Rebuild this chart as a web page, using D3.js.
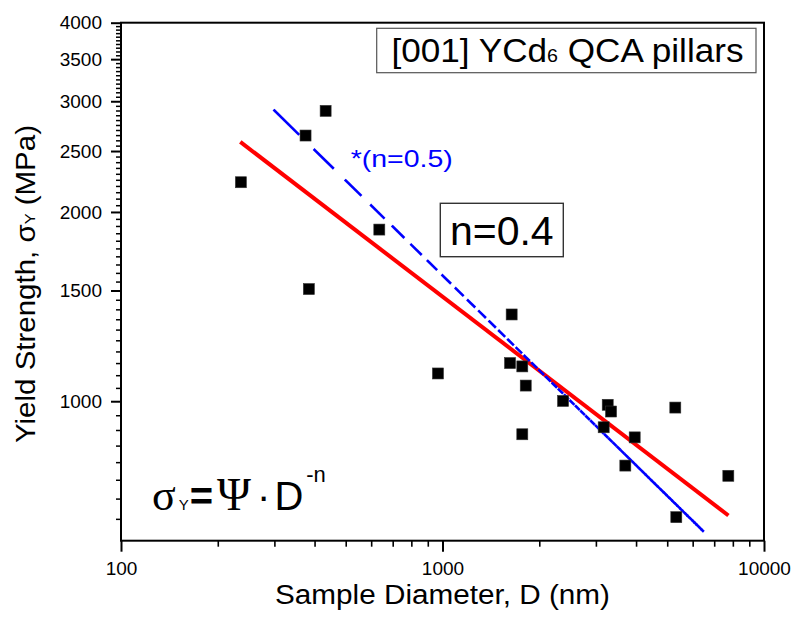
<!DOCTYPE html>
<html>
<head>
<meta charset="utf-8">
<script src="https://cdn.jsdelivr.net/npm/d3@7"></script>
<style>
  body { margin: 0; background: #fff; }
  text { font-family: "Liberation Sans", Arial, sans-serif; }
  .serif { font-family: "Liberation Serif", "Times New Roman", serif; }
</style>
</head>
<body>
<div id="chart"></div>
<script>
// measured pillars: diameter (nm) and yield strength (MPa)
const diameters = [236, 375, 433, 384, 636, 968, 1641, 1622, 1771, 1815, 1771, 2371, 3265, 3344, 3172, 3961, 3704, 5298, 5336, 7745];
const strengths = [2230, 2646, 2896, 1508, 1875, 1107, 1374, 1150, 1136, 1059, 886, 1001, 987, 963, 909, 876, 790, 977, 654, 761];

// fit n=0.4 (red) and guide n=0.5 (blue), end points
const fitD = [235, 7750];
const fitS = [2585, 658];
const guideD = [300, 6500];
const guideS = [2900, 620];

const xTicks = [100, 1000, 10000];
const yTicks = [1000, 1500, 2000, 2500, 3000, 3500, 4000];

const W = 797, H = 617;
const mLeft = 121, mRight = 764, mTop = 22.7, mBottom = 540.7;

const svg = d3.select('#chart').append('svg')
  .attr('width', W)
  .attr('height', H);

svg.append('rect').attr('width', W).attr('height', H).attr('fill', '#fff');

const x = d3.scaleLog().domain([100, 10000]).range([mLeft, mRight]);
const y = d3.scaleLog().domain([600, 4000]).range([mBottom, mTop]);

// minor ticks
const xMinor = [];
[100, 1000].forEach(dec => { for (let k = 2; k < 10; k++) xMinor.push(dec * k); });
const yMinor = d3.range(650, 4000, 50).filter(v => v % 500 !== 0);

svg.append('g')
  .attr('transform', `translate(0,${mBottom})`)
  .call(d3.axisBottom(x).tickValues(xMinor).tickSize(6).tickFormat(''))
  .call(g => g.select('.domain').remove())
  .call(g => g.selectAll('line').attr('stroke', '#000').attr('stroke-width', 1.6));

svg.append('g')
  .attr('transform', `translate(${mLeft},0)`)
  .call(d3.axisLeft(y).tickValues(yMinor).tickSize(5).tickFormat(''))
  .call(g => g.select('.domain').remove())
  .call(g => g.selectAll('line').attr('stroke', '#000').attr('stroke-width', 1.5));

const xAxis = svg.append('g')
  .attr('transform', `translate(0,${mBottom})`)
  .call(d3.axisBottom(x).tickValues(xTicks).tickSize(11).tickPadding(10).tickFormat(d3.format('d')));
xAxis.select('.domain').remove();
xAxis.selectAll('line').attr('stroke', '#000').attr('stroke-width', 2);
xAxis.selectAll('text').attr('font-size', 19).attr('fill', '#000')
  .style('font-family', '"Liberation Sans", Arial, sans-serif');

const yAxis = svg.append('g')
  .attr('transform', `translate(${mLeft},0)`)
  .call(d3.axisLeft(y).tickValues(yTicks).tickSize(10).tickPadding(9).tickFormat(d3.format('d')));
yAxis.select('.domain').remove();
yAxis.selectAll('line').attr('stroke', '#000').attr('stroke-width', 2);
yAxis.selectAll('text').attr('font-size', 19).attr('fill', '#000')
  .style('font-family', '"Liberation Sans", Arial, sans-serif');

// frame
svg.append('rect')
  .attr('x', mLeft).attr('y', mTop)
  .attr('width', mRight - mLeft).attr('height', mBottom - mTop)
  .attr('fill', 'none').attr('stroke', '#000').attr('stroke-width', 2);

const line = d3.line().x(d => x(d[0])).y(d => y(d[1]));

// red fit line
svg.append('path')
  .datum(fitD.map((d, i) => [d, fitS[i]]))
  .attr('d', line)
  .attr('fill', 'none').attr('stroke', '#ff0000').attr('stroke-width', 4);

// blue guide: dash pattern follows linear D, so it tightens to solid on the log axis
const slope = Math.log(guideS[1] / guideS[0]) / Math.log(guideD[1] / guideD[0]);
const guideAt = D => guideS[0] * Math.pow(D / guideD[0], slope);
const period = 100, onLen = 56;
const dashes = [];
for (let d0 = guideD[0]; d0 < guideD[1]; d0 += period) {
  const d1 = Math.min(d0 + onLen, guideD[1]);
  dashes.push([[d0, guideAt(d0)], [d1, guideAt(d1)]]);
}
svg.append('g').selectAll('path')
  .data(dashes)
  .join('path')
  .attr('d', line)
  .attr('fill', 'none').attr('stroke', '#0000ff').attr('stroke-width', 2.6)
  .attr('stroke-linecap', 'square');

// points
const sq = 11;
svg.append('g').selectAll('rect')
  .data(diameters.map((d, i) => [d, strengths[i]]))
  .join('rect')
  .attr('x', d => x(d[0]) - sq / 2)
  .attr('y', d => y(d[1]) - sq / 2)
  .attr('width', sq).attr('height', sq)
  .attr('fill', '#000').attr('stroke', '#333').attr('stroke-width', 0.6);

// axis titles
svg.append('text')
  .attr('x', 442.5).attr('y', 604)
  .attr('text-anchor', 'middle')
  .attr('font-size', 27)
  .attr('textLength', 335).attr('lengthAdjust', 'spacingAndGlyphs')
  .text('Sample Diameter, D (nm)');

const yt = svg.append('text')
  .attr('transform', 'translate(35,284) rotate(-90)')
  .attr('text-anchor', 'middle')
  .attr('font-size', 27)
  .attr('textLength', 318).attr('lengthAdjust', 'spacingAndGlyphs');
yt.append('tspan').text('Yield Strength, σ');
yt.append('tspan').attr('font-size', 15).text('Y');
yt.append('tspan').text(' (MPa)');

// title box
svg.append('rect')
  .attr('x', 376.7).attr('y', 28.3).attr('width', 379.3).attr('height', 44.4)
  .attr('fill', '#fff').attr('stroke', '#555').attr('stroke-width', 1.2);
const tt = svg.append('text')
  .attr('x', 391.5).attr('y', 61.7)
  .attr('font-size', 34)
  .attr('textLength', 352).attr('lengthAdjust', 'spacingAndGlyphs');
tt.append('tspan').text('[001] YCd');
tt.append('tspan').attr('font-size', 19).text('6');
tt.append('tspan').text(' QCA pillars');

// n=0.4 box
svg.append('rect')
  .attr('x', 440.3).attr('y', 203.3).attr('width', 123).attr('height', 53.4)
  .attr('fill', '#fff').attr('stroke', '#333').attr('stroke-width', 1.4);
svg.append('text')
  .attr('x', 501.8).attr('y', 245)
  .attr('text-anchor', 'middle')
  .attr('font-size', 41)
  .text('n=0.4');

svg.append('text')
  .attr('x', 350.7).attr('y', 167.3)
  .attr('font-size', 24)
  .attr('fill', '#0000ff')
  .attr('textLength', 102).attr('lengthAdjust', 'spacingAndGlyphs')
  .text('*(n=0.5)');

// formula
const f = svg.append('text').attr('x', 152).attr('y', 510).attr('font-size', 40);
f.append('tspan').attr('class', 'serif').attr('font-size', 44).text('σ');
f.append('tspan').attr('font-size', 15).attr('dx', 3).text('Y');
f.append('tspan').attr('font-weight', 'bold').attr('dx', 1).text('=');
f.append('tspan').attr('class', 'serif').attr('font-size', 46).attr('dx', 4).text('Ψ');
f.append('tspan').attr('dx', 6).text('·');
f.append('tspan').attr('dx', 4).text('D');
f.append('tspan').attr('font-size', 22).attr('dx', 3).attr('dy', -28).text('-n');
</script>
</body>
</html>
